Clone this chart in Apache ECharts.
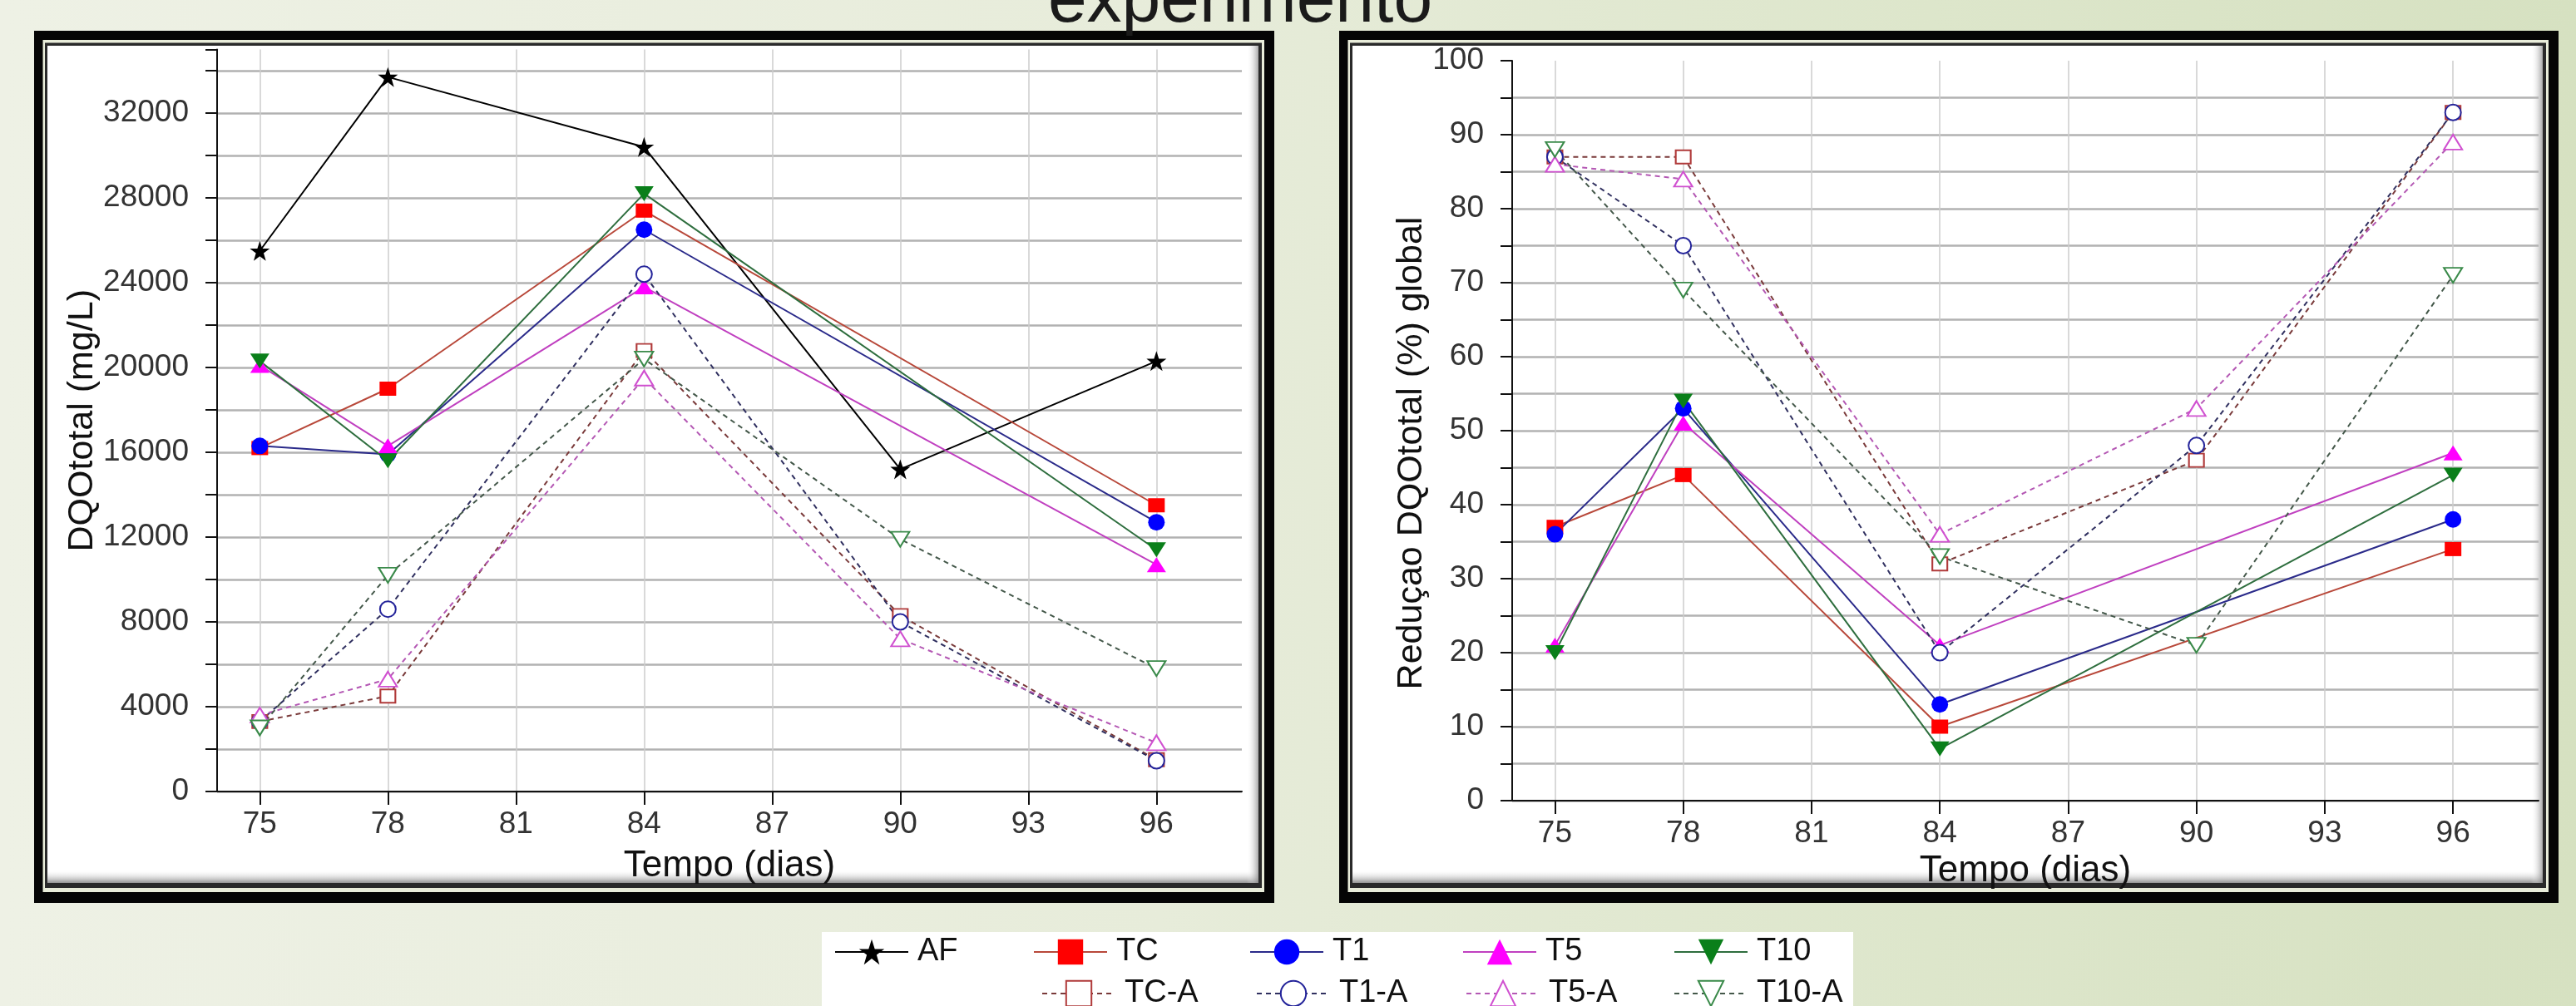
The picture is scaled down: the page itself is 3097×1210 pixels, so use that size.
<!DOCTYPE html>
<html>
<head>
<meta charset="utf-8">
<script src="https://cdn.jsdelivr.net/npm/echarts@6/dist/echarts.min.js"></script>
<style>
html,body{margin:0;padding:0;}
body{background:linear-gradient(to right,#eef1e5 0%,#e7ecda 45%,#dde6cb 75%,#d6e1c1 100%);}
#chart{width:3097px;height:1210px;}
</style>
</head>
<body>
<div id="chart"></div>
<script>
// eixo x (dias) - categorias continuas, rotulos a cada 3 dias
var dayCats = ['74','75','76','77','78','79','80','81','82','83','84','85','86',
               '87','88','89','90','91','92','93','94','95','96','97','98'];
var dias = [75, 78, 84, 90, 96];      // AF e series "-A"
var diasT = [75, 78, 84, 96];         // series cheias

// DQO total (mg/L)
var dqoAF   = [25500, 33700, 30400, 15200, 20300];
var dqoTC   = [16200, 19000, 27400, 13500];
var dqoT1   = [16300, 15900, 26500, 12700];
var dqoT5   = [20100, 16300, 23800, 10700];
var dqoT10  = [20300, 15600, 28200, 11400];
var dqoTCA  = [3300, 4500, 20800, 8300, 1500];
var dqoT1A  = [3300, 8600, 24400, 8000, 1450];
var dqoT5A  = [3600, 5300, 19500, 7200, 2300];
var dqoT10A = [3000, 10200, 20400, 11900, 5800];

// Reducao DQO total (%) global
var redTC   = [37, 44, 10, 34];
var redT1   = [36, 53, 13, 38];
var redT5   = [21, 51, 21, 47];
var redT10  = [20, 54, 7, 44];
var redTCA  = [87, 87, 32, 46, 93];
var redT1A  = [87, 75, 20, 48, 93];
var redT5A  = [86, 84, 36, 53, 89];
var redT10A = [88, 69, 33, 21, 71];

var FONT = 'Liberation Sans, Arial, sans-serif';
var STAR = 'path://M50,2L62,38L99,38L69,60L80,96L50,74L20,96L31,60L1,38L38,38Z';

var estilos = {
  'AF':    {symbol: STAR, size: 24, color: '#000000', line: '#000000'},
  'TC':    {symbol: 'rect', size: [20, 17], color: '#ff0000', line: '#b8483a'},
  'T1':    {symbol: 'circle', size: 20, color: '#0000ff', line: '#2a2a8a'},
  'T5':    {symbol: 'triangle', size: [23, 18], color: '#ff00ff', line: '#c040c0'},
  'T10':   {symbol: 'triangle', size: [23, 18], rotate: 180, color: '#0a7f1a', line: '#2e6e3e'},
  'TC-A':  {symbol: 'emptyRect', size: [18, 16], color: '#b03a3a', line: '#7a3a3a', dash: true},
  'T1-A':  {symbol: 'emptyCircle', size: 19, color: '#24249a', line: '#303060', dash: true},
  'T5-A':  {symbol: 'emptyTriangle', size: [22, 18], color: '#d050d0', line: '#b458b4', dash: true},
  'T10-A': {symbol: 'emptyTriangle', size: [22, 18], rotate: 180, color: '#3a8a4a', line: '#44584a', dash: true}
};

function serie(name, idx, x, vals) {
  var s = estilos[name];
  return {
    name: name, type: 'line', xAxisIndex: idx, yAxisIndex: idx,
    data: x.map(function (d, i) { return [String(d), vals[i]]; }),
    symbol: s.symbol, symbolSize: s.size, symbolRotate: s.rotate || 0,
    color: s.color,
    lineStyle: {color: s.line, width: 2, type: s.dash ? [6, 5] : 'solid'},
    itemStyle: {borderWidth: s.symbol.indexOf('empty') === 0 ? 2 : 0},
    animation: false
  };
}

function a3(i, v) { return (+v) % 3 === 0; }

function eixoX(idx, gap) {
  return {
    type: 'category', gridIndex: idx, data: dayCats, boundaryGap: false,
    name: 'Tempo (dias)', nameLocation: 'middle', nameGap: gap,
    nameTextStyle: {fontSize: 44, color: '#111', fontFamily: FONT},
    axisLine: {lineStyle: {color: '#111', width: 2}},
    axisTick: {interval: a3, length: 16, lineStyle: {color: '#111', width: 2}},
    axisLabel: {interval: a3, fontSize: 37, color: '#333', fontFamily: FONT, margin: 21},
    splitLine: {show: true, interval: a3, lineStyle: {color: '#cdcdcd', width: 1.5}}
  };
}

function eixoY(idx, max, step, labStep, name, gap, pad) {
  return {
    type: 'value', gridIndex: idx, min: 0, max: max, interval: step,
    name: name, nameLocation: 'middle', nameGap: gap,
    nameTextStyle: {fontSize: 43, color: '#111', fontFamily: FONT, padding: pad},
    axisLine: {show: true, lineStyle: {color: '#111', width: 2}},
    axisTick: {show: true, length: 14, lineStyle: {color: '#111', width: 2}},
    axisLabel: {fontSize: 37, color: '#333', fontFamily: FONT, margin: 34,
      formatter: function (v) { return v % labStep === 0 ? String(v) : ''; }},
    splitLine: {show: true, showMaxLine: false, lineStyle: {color: '#b2b2b2', width: 2.5}}
  };
}

// molduras pretas dos dois paineis
function moldura(x0, y0, x1, y1) {
  var r = function (a, b, c, d, fill) {
    return {type: 'rect', silent: true, z: -10,
      shape: {x: a, y: b, width: c - a, height: d - b}, style: {fill: fill}};
  };
  return [
    r(x0, y0, x1, y1, '#050505'),
    r(x0 + 10.5, y0 + 11, x1 - 12, y1 - 13, '#e9edda'),
    r(x0 + 13, y0 + 14.5, x1 - 15, y1 - 18, '#2a2a2a'),
    r(x0 + 16, y0 + 18, x1 - 19, y1 - 24, '#ffffff'),
    {type: 'rect', silent: true, z: -9,
      shape: {x: x0 + 16, y: y1 - 40, width: x1 - x0 - 35, height: 16},
      style: {fill: new echarts.graphic.LinearGradient(0, 0, 0, 1,
        [{offset: 0, color: 'rgba(255,255,255,0)'}, {offset: 1, color: 'rgba(120,120,120,0.8)'}])}},
    {type: 'rect', silent: true, z: -9,
      shape: {x: x1 - 33, y: y0 + 18, width: 14, height: y1 - y0 - 42},
      style: {fill: new echarts.graphic.LinearGradient(0, 0, 1, 0,
        [{offset: 0, color: 'rgba(255,255,255,0)'}, {offset: 1, color: 'rgba(130,130,130,0.7)'}])}}
  ];
}

var graficos = [].concat(
  moldura(41, 37, 1532, 1086),
  moldura(1610, 37, 3076, 1086),
  [
    {type: 'rect', silent: true, z: -10, shape: {x: 988, y: 1121, width: 1240, height: 95},
      style: {fill: '#ffffff'}},
    {type: 'text', silent: true, z: 10, x: 1491, y: 3,
      style: {text: 'experimento', fill: '#1a1a1a', font: '84px Liberation Sans, Arial, sans-serif',
        textAlign: 'center', textVerticalAlign: 'middle'}}
  ]
);

// legenda: uma por item, para alinhar as colunas
var legPos = [
  ['AF', 1003, 1126], ['TC', 1242, 1126], ['T1', 1502, 1126], ['T5', 1758, 1126], ['T10', 2012, 1126],
  ['TC-A', 1252, 1176], ['T1-A', 1510, 1176], ['T5-A', 1762, 1176], ['T10-A', 2012, 1176]
];
var legendas = legPos.map(function (p) {
  return {
    data: [p[0]], left: p[1], top: p[2], orient: 'horizontal', padding: 0,
    itemWidth: 88, itemHeight: 38, selectedMode: false,
    textStyle: {fontSize: 38, color: '#111', fontFamily: FONT, padding: [0, 0, 0, 6]}
  };
});

var myChart = echarts.init(document.getElementById('chart'), null, {renderer: 'canvas'});
myChart.setOption({
  backgroundColor: 'transparent',
  animation: false,
  graphic: {elements: graficos},
  legend: legendas,
  grid: [
    {left: 261, top: 59.5, width: 1232, height: 892.5},
    {left: 1818, top: 73, width: 1234, height: 890}
  ],
  xAxis: [eixoX(0, 68), eixoX(1, 55)],
  yAxis: [
    eixoY(0, 35000, 2000, 4000, 'DQOtotal (mg/L)', 138, 0),
    eixoY(1, 100, 5, 10, 'Reduçao DQOtotal (%) global', 95, [0, 54, 0, 0])
  ],
  series: [
    serie('AF', 0, dias, dqoAF),
    serie('TC', 0, diasT, dqoTC),
    serie('T1', 0, diasT, dqoT1),
    serie('T5', 0, diasT, dqoT5),
    serie('T10', 0, diasT, dqoT10),
    serie('TC-A', 0, dias, dqoTCA),
    serie('T1-A', 0, dias, dqoT1A),
    serie('T5-A', 0, dias, dqoT5A),
    serie('T10-A', 0, dias, dqoT10A),
    serie('TC', 1, diasT, redTC),
    serie('T1', 1, diasT, redT1),
    serie('T5', 1, diasT, redT5),
    serie('T10', 1, diasT, redT10),
    serie('TC-A', 1, dias, redTCA),
    serie('T1-A', 1, dias, redT1A),
    serie('T5-A', 1, dias, redT5A),
    serie('T10-A', 1, dias, redT10A)
  ]
});
</script>
</body>
</html>
